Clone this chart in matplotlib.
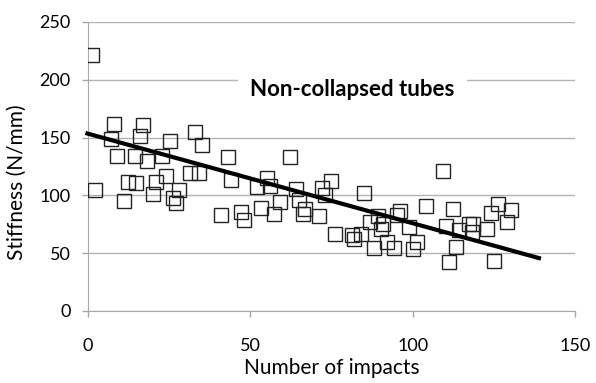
import numpy as np
import matplotlib
matplotlib.use('Agg')
import matplotlib.pyplot as plt

plt.rcParams['font.family'] = ['Lato', 'DejaVu Sans']

# number of impacts vs stiffness
impacts = [1.2, 2.0, 7.0, 8.0, 9.0, 11.0, 12.3, 14.4, 14.9, 16.1, 16.9, 18.1, 20.0, 21.0,
           22.9, 24.1, 25.3, 26.1, 27.1, 27.9, 31.3, 33.1, 34.1, 35.2, 41.1, 43.0, 44.1,
           47.1, 48.1, 52.1, 53.3, 55.1, 56.0, 57.3, 59.2, 62.2, 64.2, 65.1, 66.1, 66.8,
           71.0, 72.2, 72.9, 74.9, 76.0, 81.3, 81.9, 84.0, 85.1, 87.0, 88.1, 89.3, 90.1,
           91.0, 92.2, 94.1, 95.2, 96.1, 99.0, 100.1, 101.2, 104.2, 109.3, 110.3, 111.2,
           112.4, 113.4, 114.2, 117.2, 118.7, 118.4, 123.0, 124.2, 125.1, 126.3, 129.2, 130.2]
stiffness = [221.5, 105, 149, 162, 134, 95.5, 112, 134, 111, 151, 160.5, 130, 101, 111.5,
             133.7, 117, 147, 98, 93, 104.6, 119.4, 154.8, 119.4, 144, 83.2, 133.4, 113,
             85.8, 78.4, 107, 89, 115.4, 108.3, 83.5, 94, 133.4, 105.5, 96.3, 83.5, 88,
             81.8, 106, 100.3, 112.6, 67, 65.6, 62.1, 67, 102.3, 77, 54.2, 81.8, 71.3,
             75.5, 59.9, 54.7, 82.7, 86.4, 72.7, 53.3, 59.6, 91, 121, 73.3, 42.5,
             88.4, 55.6, 70.4, 75, 75, 68.4, 71, 85, 43, 92.4, 77, 87]

# linear trendline ends
trend_x = [-0.8, 139.5]
trend_y = [154.0, 45.3]

fig = plt.figure(figsize=(5.96, 3.83), dpi=100)
ax = fig.add_axes([0.1477, 0.188, 0.8171, 0.7546])

ax.plot(impacts, stiffness, linestyle='none', marker='s', markersize=9.5,
        markerfacecolor='none', markeredgecolor='#222222', markeredgewidth=1.0, zorder=3)
ax.plot(trend_x, trend_y, color='black', linewidth=3, solid_capstyle='butt',
        zorder=4, clip_on=False)

ax.set_xlim(0, 150)
ax.set_ylim(0, 250)
ax.set_xticks([0, 50, 100, 150])
ax.set_yticks([0, 50, 100, 150, 200, 250])
ax.grid(axis='y', color='#b4b4b4', linewidth=1)
ax.set_axisbelow(True)
for s in ['top', 'right']:
    ax.spines[s].set_visible(False)
for s in ['left', 'bottom']:
    ax.spines[s].set_color('#a8a8a8')
ax.tick_params(axis='both', colors='#a8a8a8', labelcolor='black', labelsize=13,
               length=4.5, width=1)
ax.tick_params(axis='y', pad=8)
ax.tick_params(axis='x', pad=15)

ax.set_xlabel('Number of impacts', fontsize=15, va='center', ha='center')
ax.set_ylabel('Stiffness (N/mm)', fontsize=15, va='center', ha='center')
ax.xaxis.set_label_coords(0.5, -0.198)
ax.yaxis.set_label_coords(-0.146, 0.446)

ax.text(81.5, 191.5, 'Non-collapsed tubes', fontsize=16, fontweight='bold',
        ha='center', va='center', zorder=5,
        bbox=dict(facecolor='white', edgecolor='none', pad=9))

fig.savefig('out.png', dpi=100)
